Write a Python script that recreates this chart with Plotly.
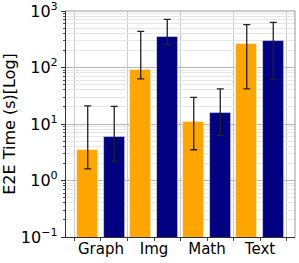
import plotly.graph_objects as go

categories = ["Graph", "Img", "Math", "Text"]
series_a = [3.4, 89, 11, 265]
series_a_lo = [1.6, 63, 3.5, 42]
series_a_hi = [21, 435, 29.5, 575]
series_b = [5.8, 340, 15.4, 300]
series_b_lo = [2.2, 255, 6.3, 61]
series_b_hi = [20.5, 710, 42, 630]
ytick_vals = [0.1, 1, 10, 100, 1000]
ytick_text = ["10<sup>\u22121</sup>", "10<sup>0</sup>", "10<sup>1</sup>", "10<sup>2</sup>", "10<sup>3</sup>"]

xpos = list(range(len(categories)))
FONT = "DejaVu Sans"

def trace(vals, lo, hi, color, offset):
    return go.Bar(
        x=[p + offset for p in xpos], y=vals, width=0.4,
        marker=dict(color=color, line=dict(color="rgba(255,255,255,0.6)", width=0.8)),
        error_y=dict(type="data", symmetric=False,
                     array=[h - v for h, v in zip(hi, vals)],
                     arrayminus=[v - l for v, l in zip(vals, lo)],
                     color="#222222", thickness=1.3, width=3.5),
        showlegend=False,
    )

fig = go.Figure()
fig.add_trace(trace(series_a, series_a_lo, series_a_hi, "#FFA500", -0.25))
fig.add_trace(trace(series_b, series_b_lo, series_b_hi, "#000080", 0.25))

fig.update_layout(
    width=299, height=263,
    margin=dict(l=66, r=4, t=11, b=26, autoexpand=False),
    paper_bgcolor="white", plot_bgcolor="white",
    font=dict(family=FONT, size=15, color="black"),
    bargap=0,
)
fig.update_xaxes(
    automargin=False,
    range=[-0.66, 3.66], tickvals=xpos, ticktext=categories,
    ticks="outside", ticklen=3, tickcolor="#444",
    ticklabelstandoff=-5, ticklabeloverflow="allow",
    showline=True, linecolor="#333", linewidth=1.2,
    showgrid=False,
    minor=dict(tickvals=[-0.5, 0.5, 1.5, 2.5, 3.5], ticks="outside", ticklen=3, tickcolor="#444",
               showgrid=True, gridcolor="#cccccc", gridwidth=1),
    tickfont=dict(size=15),
)
fig.update_yaxes(
    automargin=False,
    type="log", range=[-1, 3],
    tickvals=ytick_vals, ticktext=ytick_text,
    ticks="outside", ticklen=4, tickcolor="#333",
    ticklabeloverflow="allow",
    showline=True, linecolor="#333", linewidth=1.2,
    showgrid=True, gridcolor="#b8b8b8", gridwidth=1,
    minor=dict(dtick="D1", ticks="outside", ticklen=2, tickcolor="#555", showgrid=True,
               gridcolor="#e6e6e6", gridwidth=1),
    title=dict(text="E2E Time (s)[Log]", font=dict(size=16), standoff=4),
    tickfont=dict(size=16),
)
fig.add_shape(type="line", xref="paper", yref="paper", x0=0, x1=1, y0=1, y1=1,
              line=dict(color="#999", width=1))
fig.add_shape(type="line", xref="paper", yref="paper", x0=1, x1=1, y0=0, y1=1,
              line=dict(color="#999", width=1))
fig.write_html("out.html", config={"displayModeBar": False},
               post_script="document.body.style.margin='0';")
